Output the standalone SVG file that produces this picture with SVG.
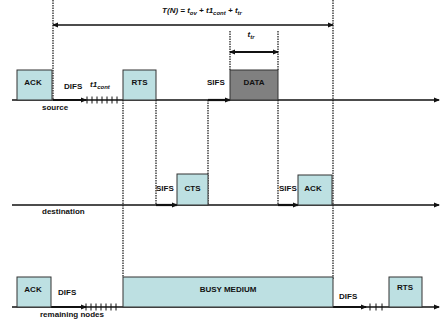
<svg xmlns="http://www.w3.org/2000/svg" width="440" height="324" viewBox="0 0 440 324">
<style>
text{font-family:"Liberation Sans",Arial,sans-serif;font-weight:bold;font-size:8px;fill:#111}
.box{fill:#bde0e2;stroke:#333;stroke-width:1}
.data{fill:#808080;stroke:#333;stroke-width:1}
.axis{stroke:#111;stroke-width:1.3;fill:none}
.thick{stroke:#111;stroke-width:2.2;fill:none}
.dash{stroke:#111;stroke-width:1.2;stroke-dasharray:1.5 1;fill:none}
.tick{stroke:#111;stroke-width:1;fill:none}
.it{font-style:italic}
.sub{font-size:6px}
</style>
<defs>
<marker id="ah" markerWidth="6" markerHeight="6" refX="5" refY="3" orient="auto" markerUnits="userSpaceOnUse"><path d="M0,0.5 L6,3 L0,5.5 Z" fill="#111"/></marker>
<marker id="ahs" markerWidth="6" markerHeight="6" refX="1" refY="3" orient="auto" markerUnits="userSpaceOnUse"><path d="M6,0.5 L0,3 L6,5.5 Z" fill="#111"/></marker>
</defs>
<g id="connectors">
<line class="axis" x1="12" y1="100" x2="439" y2="100" marker-end="url(#ah)"/>
<line class="axis" x1="12" y1="205" x2="439" y2="205" marker-end="url(#ah)"/>
<line class="axis" x1="12" y1="307" x2="439" y2="307" marker-end="url(#ah)"/>
<line class="dash" x1="53" y1="0" x2="53" y2="100"/>
<line class="dash" x1="333" y1="0" x2="333" y2="280"/>
<line class="dash" x1="123" y1="100" x2="123" y2="277"/>
<line class="dash" x1="156" y1="100" x2="156" y2="205"/>
<line class="dash" x1="208" y1="100" x2="208" y2="205"/>
<line class="dash" x1="230" y1="31" x2="230" y2="70"/>
<line class="dash" x1="278" y1="31" x2="278" y2="70"/>
<line class="dash" x1="278" y1="100" x2="278" y2="205"/>
<line class="axis" x1="53" y1="25" x2="333" y2="25" marker-start="url(#ahs)" marker-end="url(#ah)"/>
<line class="thick" x1="230" y1="52" x2="278" y2="52" marker-start="url(#ahs)" marker-end="url(#ah)"/>
<line class="thick" x1="53" y1="100" x2="86" y2="100" marker-end="url(#ah)"/>
<path class="tick" d="M87,96.5V103.5M92,96.5V103.5M97,96.5V103.5M102,96.5V103.5M107,96.5V103.5M112,96.5V103.5M117,96.5V103.5"/>
<line class="thick" x1="208" y1="100" x2="230" y2="100" marker-end="url(#ah)"/>
<line class="thick" x1="156" y1="205" x2="177" y2="205" marker-end="url(#ah)"/>
<line class="thick" x1="278" y1="205" x2="298" y2="205" marker-end="url(#ah)"/>
<line class="thick" x1="51" y1="307" x2="86" y2="307" marker-end="url(#ah)"/>
<path class="tick" d="M86,303.5V310.5M91,303.5V310.5M96,303.5V310.5M101,303.5V310.5M106,303.5V310.5M111,303.5V310.5M116,303.5V310.5"/>
<line class="thick" x1="333" y1="307" x2="366" y2="307" marker-end="url(#ah)"/>
<path class="tick" d="M370,303.5V310.5M376,303.5V310.5M382,303.5V310.5"/>
</g>
<g id="title"><text x="202" y="13" text-anchor="middle" class="it">T(N) = t<tspan class="sub" dy="1.5">ov</tspan><tspan dy="-1.5"> + t1</tspan><tspan class="sub" dy="1.5">cont</tspan><tspan dy="-1.5"> + t</tspan><tspan class="sub" dy="1.5">tr</tspan></text></g>
<g id="ttr-label"><text x="251" y="37" text-anchor="middle" class="it">t<tspan class="sub" dy="1.5">tr</tspan></text></g>
<g id="source">
<rect class="box" x="17" y="70" width="35" height="30"/>
<text x="33" y="85" text-anchor="middle">ACK</text>
<text x="64" y="89">DIFS</text>
<text x="90" y="87" class="it">t1<tspan class="sub" dy="1.5">cont</tspan></text>
<rect class="box" x="123" y="70" width="33" height="30"/>
<text x="139.5" y="85" text-anchor="middle">RTS</text>
<text x="207" y="85">SIFS</text>
<rect class="data" x="230" y="70" width="48" height="30"/>
<text x="254" y="85" text-anchor="middle">DATA</text>
<text x="42" y="110">source</text>
</g>
<g id="destination">
<text x="156" y="191">SIFS</text>
<rect class="box" x="177" y="174" width="31" height="31"/>
<text x="192.5" y="191" text-anchor="middle">CTS</text>
<text x="279" y="191">SIFS</text>
<rect class="box" x="298" y="175" width="34" height="30"/>
<text x="313" y="191" text-anchor="middle">ACK</text>
<text x="42" y="214">destination</text>
</g>
<g id="remaining">
<rect class="box" x="17" y="277" width="34" height="30"/>
<text x="33" y="292" text-anchor="middle">ACK</text>
<text x="58" y="295">DIFS</text>
<rect class="box" x="123" y="277" width="210" height="30"/>
<text x="228" y="292" text-anchor="middle">BUSY MEDIUM</text>
<text x="339" y="299">DIFS</text>
<rect class="box" x="389" y="277" width="33" height="30"/>
<text x="405" y="290" text-anchor="middle">RTS</text>
<text x="40" y="317">remaining nodes</text>
</g>
</svg>
